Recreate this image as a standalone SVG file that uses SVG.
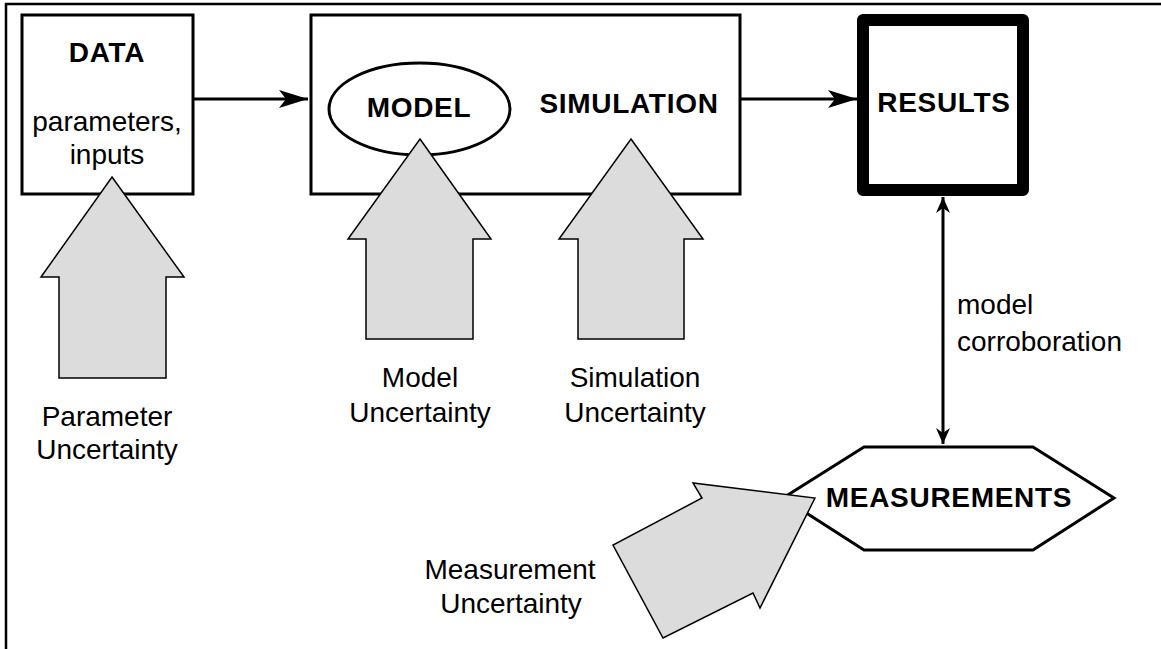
<svg xmlns="http://www.w3.org/2000/svg" width="1161" height="649" viewBox="0 0 1161 649">
<defs>
<style>
.box{fill:#fff;stroke:#000;stroke-width:3}
.blk{fill:#dcdcdc;stroke:#000;stroke-width:1.5;stroke-linejoin:miter}
.ln{fill:none;stroke:#000;stroke-width:3}
.b{font-family:"Liberation Sans",Arial,sans-serif;font-weight:bold;font-size:28px;letter-spacing:0.7px;text-anchor:middle;fill:#000}
.r{font-family:"Liberation Sans",Arial,sans-serif;font-size:28px;text-anchor:middle;fill:#000}
</style>
<marker id="big" markerUnits="userSpaceOnUse" markerWidth="32" markerHeight="22" viewBox="-30 -11 32 22" refX="0" refY="0" orient="auto">
<path d="M0,0 L-29,-9 L-22,0 L-29,9 Z" fill="#000"/>
</marker>
<marker id="sm" markerUnits="userSpaceOnUse" markerWidth="18" markerHeight="16" viewBox="-17 -8 18 16" refX="0" refY="0" orient="auto">
<path d="M0,0 L-16,-7 L-11,0 L-16,7 Z" fill="#000"/>
</marker>
</defs>
<rect x="0" y="0" width="1161" height="649" fill="#fff"/>
<rect x="6" y="4" width="1200" height="700" fill="none" stroke="#000" stroke-width="2.5"/>

<g id="data">
<rect class="box" x="22" y="15" width="171" height="179"/>
<text class="b" x="107" y="62">DATA</text>
<text class="r" x="107" y="131">parameters,</text>
<text class="r" x="107" y="164">inputs</text>
</g>

<g id="simulation">
<rect class="box" x="311" y="15" width="429" height="179"/>
<text class="b" x="629" y="113">SIMULATION</text>
</g>

<g id="model">
<ellipse class="box" cx="419.5" cy="109" rx="90.5" ry="46"/>
<text class="b" x="419" y="117">MODEL</text>
</g>

<g id="results">
<rect x="863" y="20" width="160" height="170" fill="#fff" stroke="#000" stroke-width="12" stroke-linejoin="round"/>
<text class="b" x="944" y="112">RESULTS</text>
</g>

<g id="measurements">
<polygon class="box" points="783,498 864,447 1033,447 1114,498 1033,550 864,550"/>
<text class="b" x="949" y="507">MEASUREMENTS</text>
</g>

<g id="connectors">
<line class="ln" x1="193" y1="99" x2="308" y2="99" marker-end="url(#big)"/>
<line class="ln" x1="740" y1="99" x2="857" y2="99" marker-end="url(#big)"/>
<line class="ln" x1="943" y1="300" x2="943" y2="197" marker-end="url(#sm)"/>
<line class="ln" x1="943" y1="300" x2="943" y2="444" marker-end="url(#sm)"/>
<text class="r" x="957" y="314" style="text-anchor:start">model</text>
<text class="r" x="957" y="351" style="text-anchor:start">corroboration</text>
</g>

<g id="param-uncertainty">
<polygon class="blk" points="112,177 184,277 166,277 166,378 59,378 59,277 41,277"/>
<text class="r" x="107" y="426">Parameter</text>
<text class="r" x="107" y="459">Uncertainty</text>
</g>

<g id="model-uncertainty">
<polygon class="blk" points="420,139 491,239 473,239 473,339 366,339 366,239 348,239"/>
<text class="r" x="420" y="387">Model</text>
<text class="r" x="420" y="422">Uncertainty</text>
</g>

<g id="sim-uncertainty">
<polygon class="blk" points="631,139 703,239 684,239 684,339 578,339 578,239 559,239"/>
<text class="r" x="635" y="387">Simulation</text>
<text class="r" x="635" y="422">Uncertainty</text>
</g>

<g id="meas-uncertainty">
<polygon class="blk" points="815,498 760,608 753,593 663,638 613,545 702,498 693,483"/>
<text class="r" x="510" y="579">Measurement</text>
<text class="r" x="511" y="613">Uncertainty</text>
</g>
</svg>
